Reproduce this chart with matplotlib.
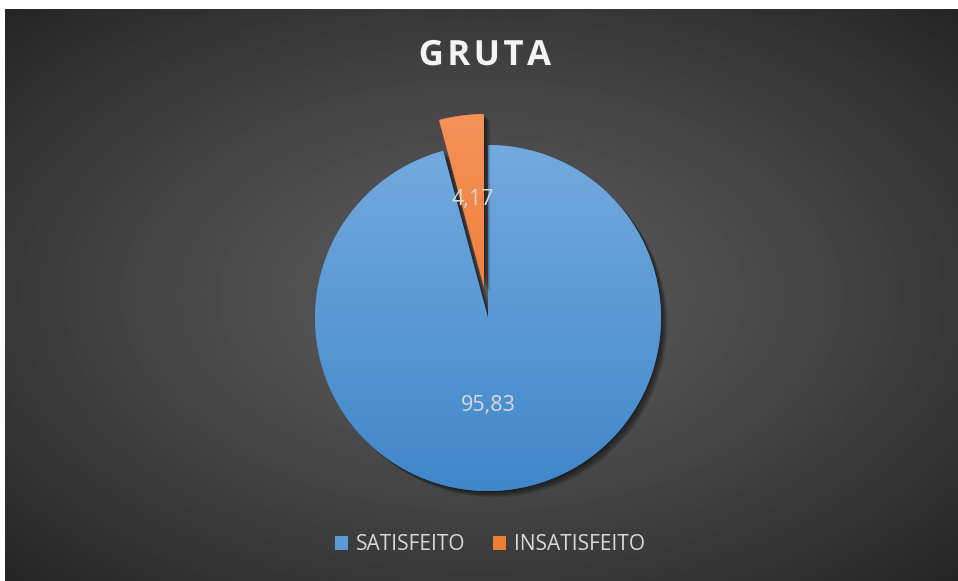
import numpy as np
import matplotlib
matplotlib.use('Agg')
import matplotlib.pyplot as plt
import matplotlib.patheffects as pe
from matplotlib.colors import LinearSegmentedColormap
from matplotlib.patches import Patch

title = 'GRUTA'
labels = ['SATISFEITO', 'INSATISFEITO']
values = [95.83, 4.17]
explode = [0, 0.18]
tops = ['#74aade', '#f5925a']
bottoms = ['#3f87ca', '#ec7020']
legend_colors = ['#5b9bd5', '#ed7d31']

plt.rcParams['font.family'] = ['Open Sans', 'DejaVu Sans']

W, H = 958, 581
fig = plt.figure(figsize=(W / 100, H / 100), dpi=100)
fig.patch.set_facecolor('white')

# background with radial gradient
bg = fig.add_axes([5 / W, 0, 953 / W, 572 / H])
bg.set_axis_off()
yy, xx = np.mgrid[0:1:300j, 0:1:500j]
d = np.sqrt(((xx - 0.5) / 0.5) ** 2 + ((yy - 0.5) / 0.5) ** 2) / np.sqrt(2)
shade = 0.355 - (0.355 - 0.145) * d ** 1.3
bg.imshow(shade, cmap='gray', vmin=0, vmax=1, aspect='auto', extent=(0, 1, 0, 1))

# pie axes: radius 173 px, centre at (488, 318)
r = 173
cx, cy = 488, 318
half = 1.3 * r
ax = fig.add_axes([(cx - half) / W, (H - cy - half) / H, 2 * half / W, 2 * half / H])
ax.set_axis_off()

wedges, texts, autotexts = ax.pie(
    values, explode=explode, startangle=90, counterclock=False,
    autopct=lambda p: f'{p:.2f}'.replace('.', ','), pctdistance=0.51,
    textprops=dict(color='#d9d9d9', fontsize=15.5))

for i, w in enumerate(wedges):
    w.set_zorder(1 + i)
    w.set_facecolor(bottoms[i])
    w.set_path_effects(
        [pe.SimplePatchShadow(offset=(k * 0.9, -k * 0.9), shadow_rgbFace='black', alpha=0.14)
         for k in range(1, 6)] + [pe.Normal()])
    y0 = w.center[1]
    cmap = LinearSegmentedColormap.from_list('g%d' % i, [bottoms[i], tops[i]])
    im = ax.imshow(np.linspace(0, 1, 256).reshape(-1, 1), extent=(-1.5, 1.5, y0 - 1, y0 + 1),
                   origin='lower', cmap=cmap, aspect='auto', zorder=1.5 + i)
    im.set_clip_path(w)

for t in autotexts:
    t.set_zorder(5)
autotexts[0].set_x(0)

ax.set_xlim(-1.3, 1.3)
ax.set_ylim(-1.3, 1.3)
ax.set_aspect('equal')

fig.text(485 / W, 1 - 56 / H, '\u200a'.join(title), ha='center', va='center', fontsize=25,
         fontweight='bold', color='#f4f4f4',
         path_effects=[pe.SimplePatchShadow(offset=(1.5, -1.5), alpha=0.6), pe.Normal()])

handles = [Patch(facecolor=c, edgecolor='none') for c in legend_colors]
fig.legend(handles, labels, loc='center', bbox_to_anchor=(490 / W, 1 - 545 / H), ncol=2,
           frameon=False, fontsize=15, labelcolor='#d9d9d9', handlelength=0.62,
           handleheight=0.62, handletextpad=0.35, columnspacing=1.35)

fig.savefig('out.png', dpi=100, facecolor=fig.get_facecolor())
